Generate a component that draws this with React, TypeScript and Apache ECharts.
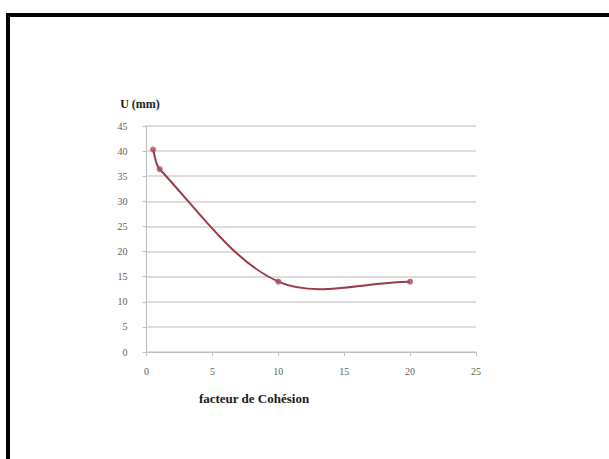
import React, { useEffect, useRef } from "react";
import * as echarts from "echarts";

const xValues = [0.5, 1, 10, 20];
const uValues = [40.3, 36.4, 14, 14];
const xTitle = "facteur de Cohésion";
const yTitle = "U (mm)";

export default function App() {
  const ref = useRef<HTMLDivElement>(null);
  useEffect(() => {
    if (!ref.current) return;
    const chart = echarts.init(ref.current, null, { renderer: "svg" });
    const data = xValues.map((x, i) => [x, uValues[i]]);
    const tension = 1 / 3;
    const renderItem = (params: any, api: any) => {
      const i = params.dataIndex;
      const n = data.length;
      if (i >= n - 1) return null;
      const P = data.map((d) => api.coord(d));
      const dist = (a: number[], b: number[]) => Math.hypot(a[0] - b[0], a[1] - b[1]);
      // control point leaving point k
      const cpAfter = (k: number) => {
        if (k === 0) {
          return [P[0][0] + (P[1][0] - P[0][0]) * tension, P[0][1] + (P[1][1] - P[0][1]) * tension];
        }
        const T = [P[k + 1][0] - P[k - 1][0], P[k + 1][1] - P[k - 1][1]];
        const d1 = dist(P[k], P[k - 1]);
        const d2 = dist(P[k + 1], P[k]);
        const f = (d2 / (d1 + d2)) * tension;
        return [P[k][0] + T[0] * f, P[k][1] + T[1] * f];
      };
      const cpBefore = (k: number) => {
        if (k === n - 1) {
          return [P[k][0] - (P[k][0] - P[k - 1][0]) * tension, P[k][1] - (P[k][1] - P[k - 1][1]) * tension];
        }
        const T = [P[k + 1][0] - P[k - 1][0], P[k + 1][1] - P[k - 1][1]];
        const d1 = dist(P[k], P[k - 1]);
        const d2 = dist(P[k + 1], P[k]);
        const f = (d1 / (d1 + d2)) * tension;
        return [P[k][0] - T[0] * f, P[k][1] - T[1] * f];
      };
      const c1 = cpAfter(i);
      const c2 = cpBefore(i + 1);
      return {
        type: "bezierCurve",
        shape: {
          x1: P[i][0],
          y1: P[i][1],
          cpx1: c1[0],
          cpy1: c1[1],
          cpx2: c2[0],
          cpy2: c2[1],
          x2: P[i + 1][0],
          y2: P[i + 1][1],
        },
        style: { stroke: "#9a3a48", lineWidth: 2, fill: "none" },
      };
    };
    chart.setOption({
      animation: false,
      backgroundColor: "#ffffff",
      grid: { left: 146.5, right: 133, top: 126, bottom: 107 },
      xAxis: {
        type: "value",
        min: 0,
        max: 25,
        interval: 5,
        axisLine: { show: true, lineStyle: { color: "#bdbdbd", width: 1 } },
        axisTick: { show: true, length: 4, lineStyle: { color: "#bdbdbd" } },
        splitLine: { show: false },
        axisLabel: { margin: 14, color: "#606060", fontFamily: "Liberation Serif", fontSize: 10 },
      },
      yAxis: {
        type: "value",
        min: 0,
        max: 45,
        interval: 5,
        axisLine: { show: true, lineStyle: { color: "#bdbdbd", width: 1 } },
        axisTick: { show: true, length: 4, lineStyle: { color: "#bdbdbd" } },
        splitLine: { show: true, lineStyle: { color: "#d2d2d2", width: 1.5 } },
        axisLabel: { margin: 19, color: "#606060", fontFamily: "Liberation Serif", fontSize: 10 },
      },
      graphic: [
        { type: "rect", shape: { x: 6, y: 13, width: 603, height: 4 }, style: { fill: "#000" } },
        { type: "rect", shape: { x: 6, y: 13, width: 4, height: 446 }, style: { fill: "#000" } },
        {
          type: "text",
          x: 140,
          y: 104,
          style: {
            text: yTitle,
            fill: "#1a1a1a",
            font: "bold 12px 'Liberation Serif'",
            align: "center",
            verticalAlign: "middle",
          },
        },
        {
          type: "text",
          x: 254,
          y: 398,
          style: {
            text: xTitle,
            fill: "#1a1a1a",
            font: "bold 13px 'Liberation Serif'",
            align: "center",
            verticalAlign: "middle",
          },
        },
      ],
      series: [
        {
          type: "custom",
          data,
          renderItem,
          encode: { x: 0, y: 1 },
          z: 2,
        },
        {
          type: "scatter",
          data,
          symbol: "circle",
          symbolSize: 6,
          itemStyle: { color: "#b04557" },
          z: 3,
        },
      ],
    });
    return () => chart.dispose();
  }, []);
  return (
    <div
      ref={ref}
      style={{ position: "fixed", left: 0, top: 0, width: 609, height: 459 }}
    />
  );
}
